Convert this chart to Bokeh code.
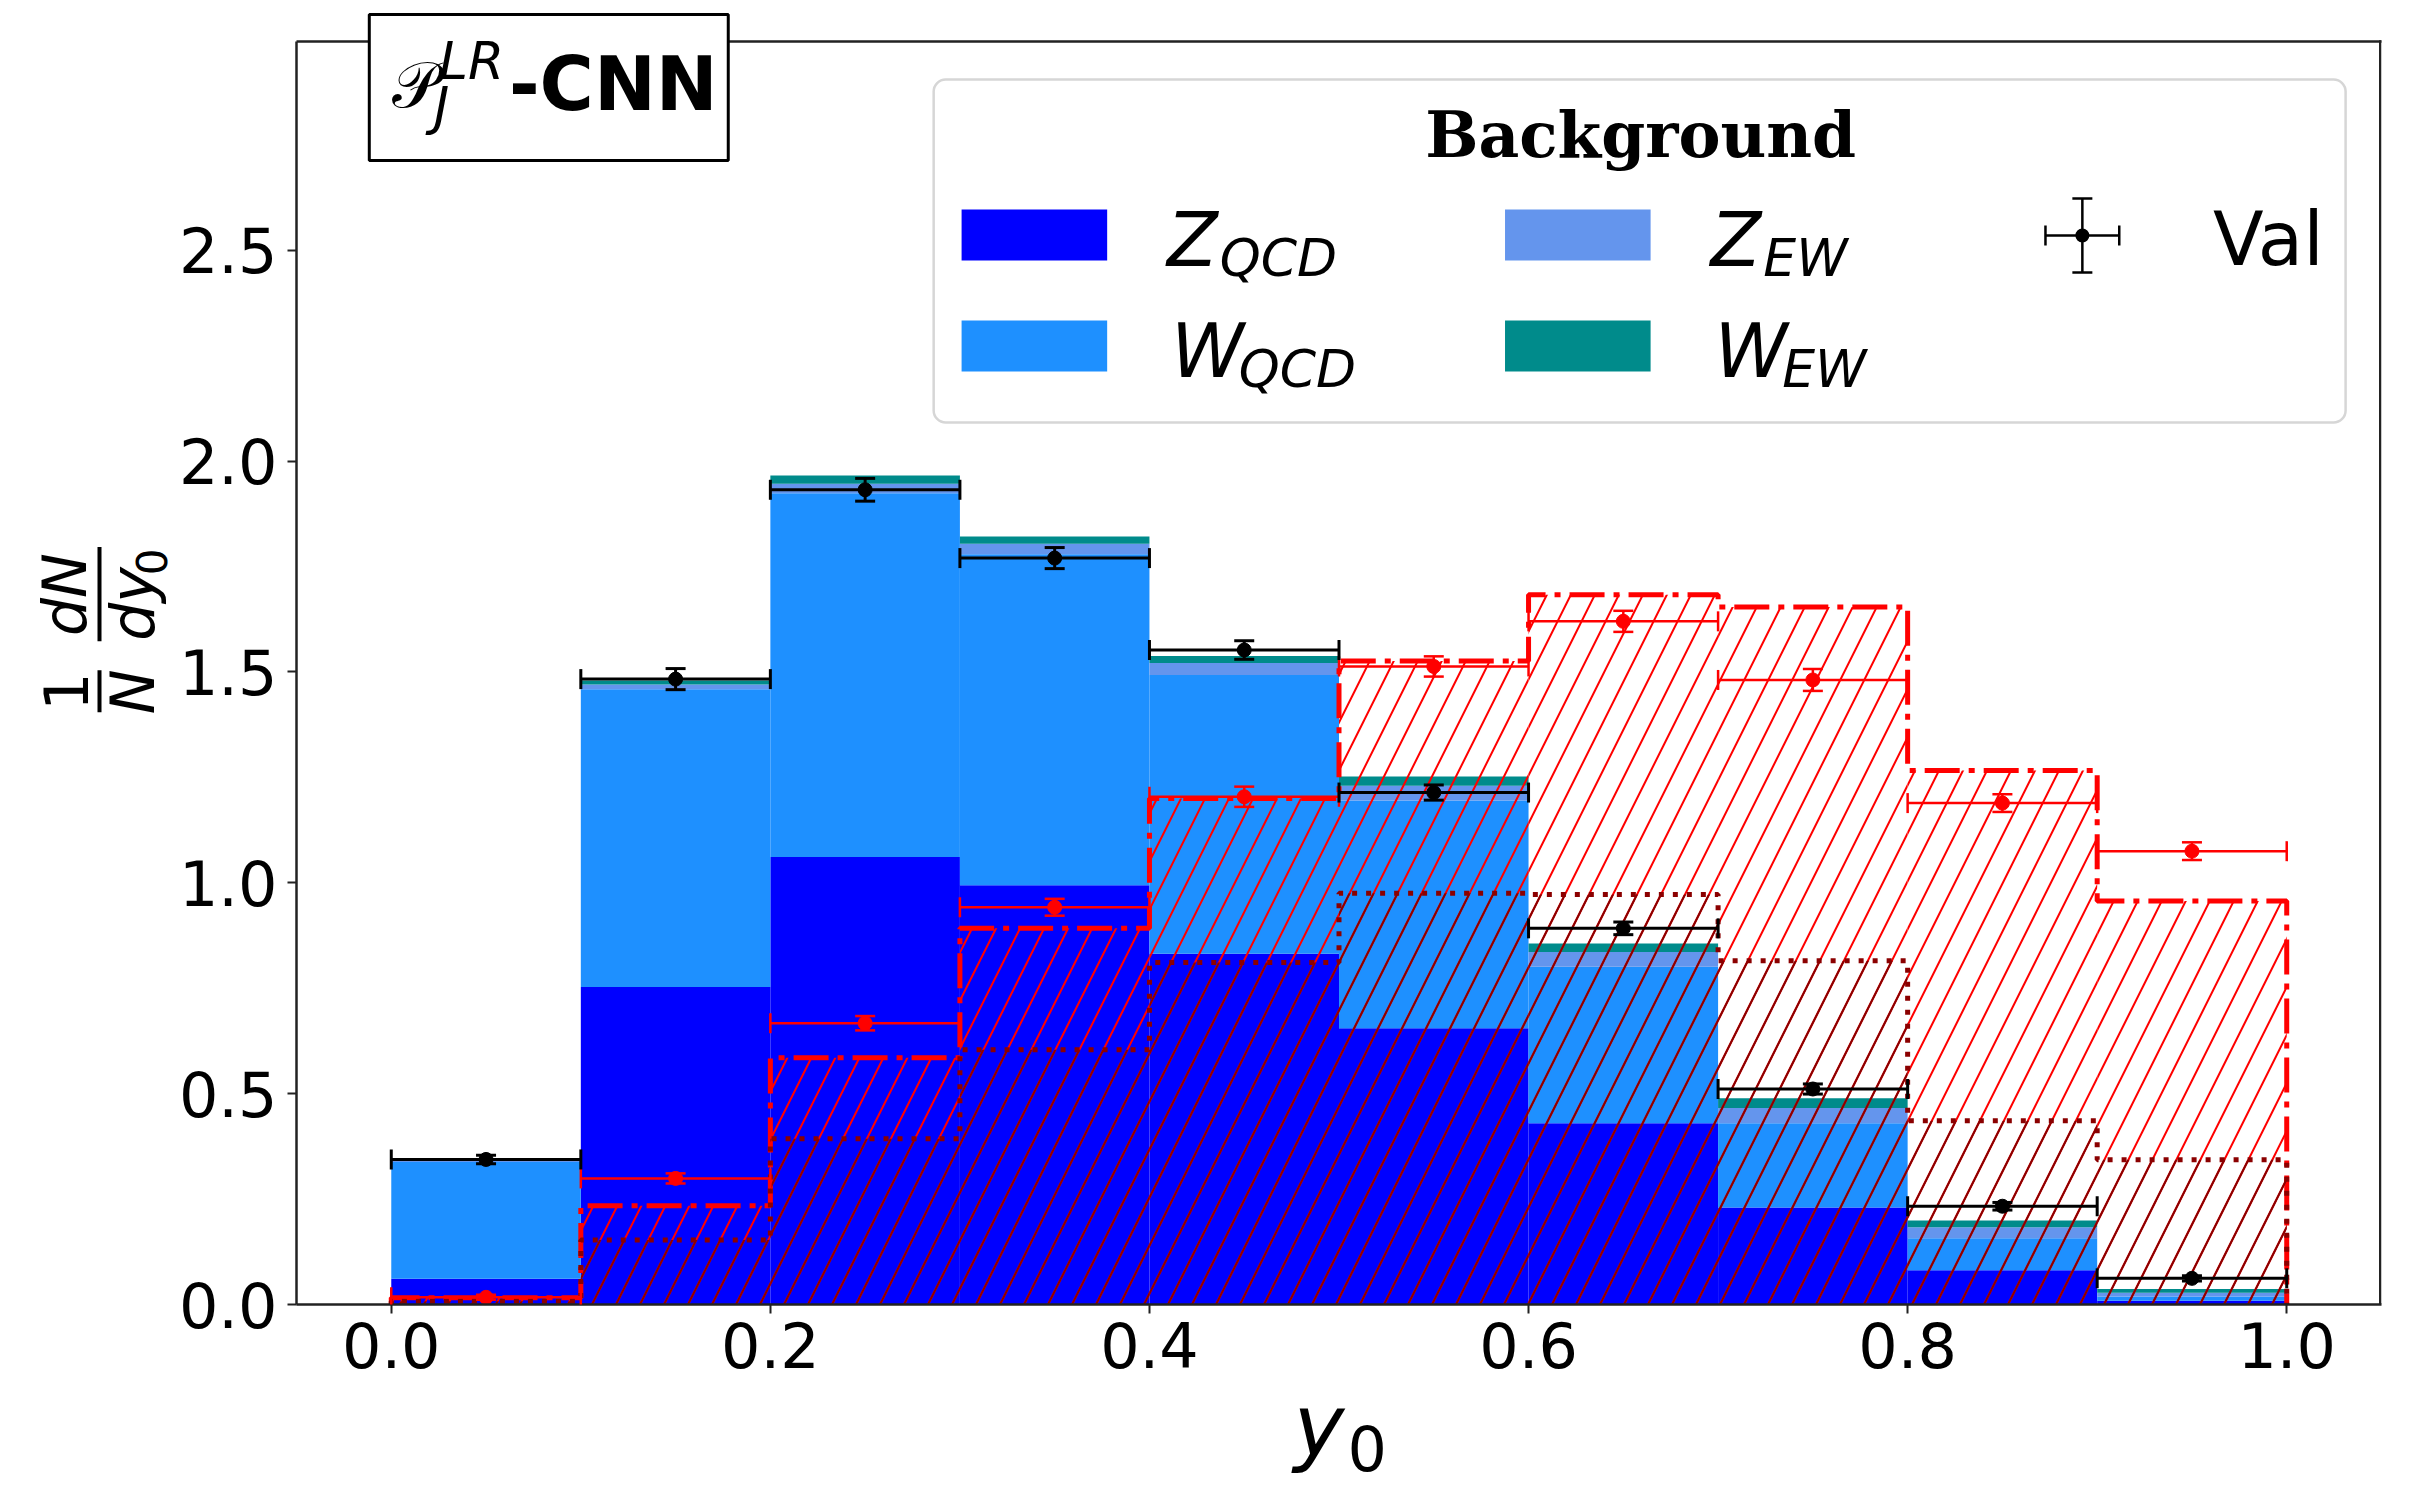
import numpy as np
from bokeh.plotting import figure
from bokeh.layouts import row, column
from bokeh.models import (Range1d, FixedTicker, NumeralTickFormatter, Label,
                          BoxAnnotation, Whisker, TeeHead, ColumnDataSource)
from bokeh.embed import file_html
from bokeh.resources import INLINE

# ---------------- data ----------------
bin_edges = [0.0, 0.1, 0.2, 0.3, 0.4, 0.5, 0.6, 0.7, 0.8, 0.9, 1.0]

# background components (stacked, bottom -> top)
z_qcd = [0.061, 0.753, 1.061, 0.994, 0.832, 0.655, 0.430, 0.230, 0.081, 0.009]
w_qcd = [0.277, 0.706, 0.863, 0.785, 0.661, 0.540, 0.371, 0.200, 0.076, 0.010]
z_ew = [0.005, 0.011, 0.022, 0.025, 0.028, 0.035, 0.035, 0.036, 0.026, 0.009]
w_ew = [0.004, 0.010, 0.020, 0.017, 0.017, 0.022, 0.020, 0.023, 0.016, 0.009]

# background validation points
val_bkg = [0.344, 1.483, 1.932, 1.770, 1.552, 1.214, 0.892, 0.511, 0.233, 0.062]
val_bkg_err = [0.010, 0.025, 0.027, 0.025, 0.022, 0.018, 0.015, 0.012, 0.009, 0.006]

# signal histogram (dash-dot, red hatch) and its validation points
signal = [0.016, 0.234, 0.585, 0.892, 1.200, 1.526, 1.683, 1.654, 1.266, 0.957]
val_sig = [0.017, 0.299, 0.667, 0.942, 1.204, 1.513, 1.620, 1.481, 1.189, 1.075]
val_sig_err = [0.006, 0.012, 0.017, 0.020, 0.024, 0.024, 0.025, 0.026, 0.021, 0.021]

# second signal histogram (dotted, dark-red hatch)
signal2 = [0.008, 0.153, 0.393, 0.604, 0.811, 0.975, 0.972, 0.815, 0.436, 0.343]

y_ticks = [0.0, 0.5, 1.0, 1.5, 2.0, 2.5]
x_ticks = [0.0, 0.2, 0.4, 0.6, 0.8, 1.0]

bkg_names = ["Z", "W", "Z", "W"]
bkg_subs = ["QCD", "QCD", "EW", "EW"]
bkg_colors = ["#0000ff", "#1e90ff", "#6495ed", "#008b8b"]

SPINE = "#222222"
K = 0.29          # baseline correction (fraction of font size)

# ---------------- page layout (page pixels) ----------------
XLO, XHI, YLO, YHI = -0.05, 1.05, 0.0, 2.995
FL, FT, FW, FH = 290, 41, 2091, 1263     # axes box
FB = FT + FH
FR = FL + FW
H_TOTAL = 1492
LW = 175                                  # y-label strip width
MB_LEFT, MB_RIGHT, MB_BOTTOM = FL - LW, 22, 92
MW = MB_LEFT + FW + MB_RIGHT              # main width
TOTAL_W = LW + MW
MAIN_H = FB + MB_BOTTOM                   # frame reaches the page top
YTOP = YHI * FB / FH                      # data value at the page top


def pixel_fig(x0, x1, y0, y1):
    f = figure(width=x1 - x0, height=y1 - y0,
               x_range=Range1d(x0, x1), y_range=Range1d(y1, y0),
               x_axis_type=None, y_axis_type=None, min_border=0,
               min_border_left=0, min_border_right=0, min_border_top=0,
               min_border_bottom=0, output_backend="svg", toolbar_location=None)
    f.outline_line_color = None
    f.background_fill_color = "white"
    f.border_fill_color = "white"
    return f


def put(fig, x, y, s, size, font="DejaVu Sans", style="normal", align="left",
        angle=0.0):
    fig.add_layout(Label(x=x, y=y, text=s, text_font=font,
                         text_font_size=f"{size}px", text_font_style=style,
                         text_align=align, text_baseline="alphabetic",
                         angle=angle, text_color="black"))


def rect(fig, l, r, t, b, color, line=None, lw=0, radius=0):
    fig.add_layout(BoxAnnotation(left=l, right=r, top=t, bottom=b,
                                 fill_color=color, fill_alpha=1.0,
                                 line_color=line, line_alpha=1.0, line_width=lw,
                                 border_radius=radius, level="annotation"))


# ---------------- main figure ----------------
p = figure(width=MW, height=MAIN_H,
           min_border_left=MB_LEFT, min_border_top=0,
           min_border_right=MB_RIGHT, min_border_bottom=MB_BOTTOM,
           x_range=Range1d(XLO, XHI), y_range=Range1d(YLO, YTOP),
           output_backend="svg", toolbar_location=None)
p.background_fill_color = "white"
p.border_fill_color = "white"
p.grid.visible = False
p.outline_line_color = None

for ax in (p.xaxis[0], p.yaxis[0]):
    ax.axis_line_color = SPINE
    ax.axis_line_width = 2.5
    ax.major_tick_out = 9
    ax.major_tick_in = 0
    ax.major_tick_line_width = 2
    ax.major_tick_line_color = SPINE
    ax.minor_tick_out = 0
    ax.minor_tick_in = 0
    ax.major_label_text_font = "DejaVu Sans"
    ax.major_label_text_font_size = "62px"
    ax.major_label_text_color = "black"
    ax.formatter = NumeralTickFormatter(format="0.0")
p.xaxis[0].ticker = FixedTicker(ticks=x_ticks)
p.yaxis[0].ticker = FixedTicker(ticks=y_ticks)
p.yaxis[0].bounds = (YLO, YHI)
p.xaxis[0].major_label_standoff = 8
p.yaxis[0].major_label_standoff = 10


def dx(px):
    return XLO + (px - FL) / FW * (XHI - XLO)


def dy(py):
    return YLO + (FB - py) / FH * (YHI - YLO)


# stacked background
edges = np.array(bin_edges)
left, right = edges[:-1], edges[1:]
centers = 0.5 * (left + right)
comps = [np.array(z_qcd), np.array(w_qcd), np.array(z_ew), np.array(w_ew)]
bottom = np.zeros(len(left))
for comp, col in zip(comps, bkg_colors):
    top = bottom + comp
    p.quad(left=left, right=right, bottom=bottom, top=top,
           fill_color=col, line_color=None)
    bottom = top


def step_outline(vals):
    v = np.array(vals)
    xs = np.repeat(edges, 2)
    ys = np.concatenate([[0.0], np.repeat(v, 2), [0.0]])
    return xs, ys


# signal: red hatch + dash-dot outline
p.quad(left=left, right=right, bottom=0, top=signal, fill_color=None,
       line_color=None, hatch_pattern="/", hatch_color="#ff0000",
       hatch_scale=48, hatch_weight=2)
xs, ys = step_outline(signal)
p.line(xs, ys, line_color="#ff0000", line_width=5, line_dash="35 9 6 9")

# signal 2: dark red hatch + dotted outline
p.quad(left=left, right=right, bottom=0, top=signal2, fill_color=None,
       line_color=None, hatch_pattern="/", hatch_color="#8b0000",
       hatch_scale=48, hatch_weight=2)
xs2, ys2 = step_outline(signal2)
p.line(xs2, ys2, line_color="#8b0000", line_width=5, line_dash="5 9")


def tee(color, lw):
    return TeeHead(size=20, line_color=color, line_width=lw)


def errorbars(vals, errs, color, lw):
    v = np.array(vals)
    e = np.array(errs)
    src = ColumnDataSource(dict(x=centers, xlo=left, xhi=right, y=v,
                                ylo=v - e, yhi=v + e))
    p.add_layout(Whisker(source=src, base="y", lower="xlo", upper="xhi",
                         dimension="width", line_color=color, line_width=lw,
                         level="annotation",
                         lower_head=tee(color, lw), upper_head=tee(color, lw)))
    p.add_layout(Whisker(source=src, base="x", lower="ylo", upper="yhi",
                         dimension="height", line_color=color, line_width=lw,
                         level="annotation",
                         lower_head=tee(color, lw), upper_head=tee(color, lw)))
    p.scatter(x="x", y="y", source=src, size=14, fill_color=color,
              line_color=color)


errorbars(val_sig, val_sig_err, "#ff0000", 2.5)
errorbars(val_bkg, val_bkg_err, "black", 3)


def mtxt(px, py, s, size, **kw):
    put(p, dx(px), dy(py - K * size), s, size, **kw)


def mrect(l, r, t, b, color, **kw):
    rect(p, dx(l), dx(r), dy(t), dy(b), color, **kw)


# top and right spines of the axes box
mrect(FL - 1.25, 363, FT - 1.25, FT + 1.25, SPINE)
mrect(723, FR + 1.25, FT - 1.25, FT + 1.25, SPINE)
mrect(FR - 2.5, FR, FT - 1.25, FB, SPINE)

# legend
mrect(929, 2345, 79, 422, "white", line="#d6d6d6", lw=2.5, radius=12)
mtxt(1638, 153, "Background", 63, font="DejaVu Serif", style="bold", align="center")
sw_x = [957, 957, 1502, 1502]
sw_y = [209, 320, 209, 320]
sub_off = {"Z": 53, "W": 68}
for name, sub, col, swx, swy in zip(bkg_names, bkg_subs, bkg_colors, sw_x, sw_y):
    mrect(swx, swx + 146, swy, swy + 51, col)
    lx = swx + 206 if name == "Z" else swx + 210
    mtxt(lx, swy + 52, name, 74, style="italic")
    mtxt(lx + sub_off[name], swy + 64, sub, 52, style="italic")

vcx, vcy = 2081, 235
vsrc = ColumnDataSource(dict(x=[dx(vcx)], y=[dy(vcy)], xlo=[dx(vcx - 37)],
                             xhi=[dx(vcx + 37)], ylo=[dy(vcy + 37)], yhi=[dy(vcy - 37)]))
for dim, base, lo, hi in (("width", "y", "xlo", "xhi"), ("height", "x", "ylo", "yhi")):
    p.add_layout(Whisker(source=vsrc, base=base, lower=lo, upper=hi, dimension=dim,
                         line_color="black", line_width=2.5, level="annotation",
                         lower_head=tee("black", 2.5), upper_head=tee("black", 2.5)))
mrect(vcx - 7, vcx + 7, vcy - 7, vcy + 7, "black", radius=7)
mtxt(2212, 260, "Val", 74)

# title box
mrect(363, 723, 14, 160, "white", line="black", lw=3)
mtxt(386, 103, "\U0001D4AB", 64)
mtxt(433, 76, "LR", 52, style="italic")
mtxt(428, 121, "J", 52, style="italic")
mtxt(503, 105, "-CNN", 74, style="bold")

# ---------------- y-axis label strip ----------------
yl_fig = pixel_fig(0, LW, 0, MAIN_H)
rot = np.pi / 2
rect(yl_fig, 97, 101, 717, 762, "black")
rect(yl_fig, 97, 101, 585, 686, "black")
put(yl_fig, 82 - K * 60, 740, "1", 60, align="center", angle=rot)
put(yl_fig, 150 - K * 60, 740, "N", 60, style="italic", align="center", angle=rot)
put(yl_fig, 82 - K * 60, 636, "dN", 60, style="italic", align="center", angle=rot)
put(yl_fig, 150 - K * 60, 646, "dy", 60, style="italic", align="center", angle=rot)
put(yl_fig, 163 - K * 42, 601, "0", 42, align="center", angle=rot)

# ---------------- x-axis label strip (full width) ----------------
xl_fig = pixel_fig(0, TOTAL_W, MAIN_H, H_TOTAL)
put(xl_fig, 1293, 1449 - K * 86, "y", 86, style="italic")
put(xl_fig, 1347, 1465 - K * 62, "0", 62)

layout = column(row(yl_fig, p, spacing=0), xl_fig, spacing=0)
open("out.html", "w").write(file_html(layout, INLINE))
